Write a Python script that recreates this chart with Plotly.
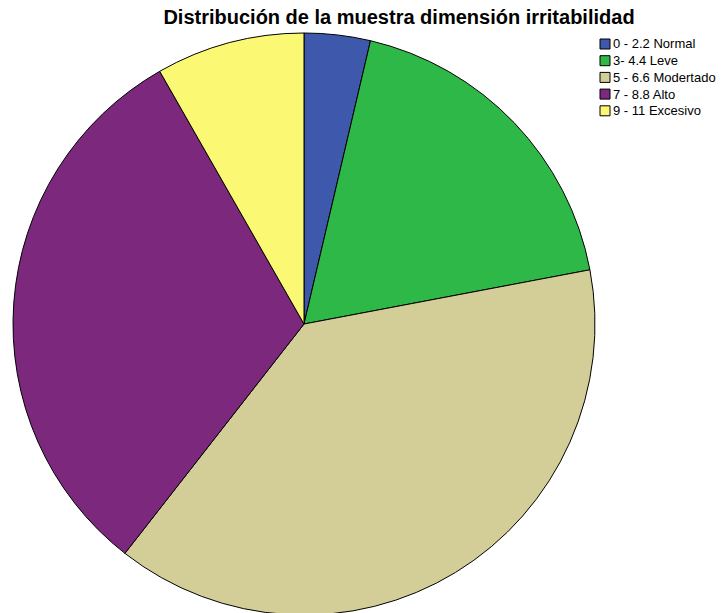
import plotly.graph_objects as go

categories = ["0 - 2.2 Normal", "3- 4.4 Leve", "5 - 6.6 Modertado", "7 - 8.8 Alto", "9 - 11 Excesivo"]
counts = [4, 20, 42, 34, 9]
colors = ["#3E58AC", "#2EB848", "#D3CE97", "#7C287D", "#FBF873"]

W, H = 725, 613
OFF = 8  # page body margin offset of the figure in the browser
cx, cy, r = 304 - OFF, 324 - OFF, 291

fig = go.Figure(go.Pie(
    labels=categories,
    values=counts,
    sort=False,
    direction="clockwise",
    rotation=0,
    textinfo="none",
    hoverinfo="label+value+percent",
    showlegend=False,
    marker=dict(colors=colors, line=dict(color="#000000", width=1)),
    domain=dict(x=[(cx - r) / W, (cx + r) / W], y=[max(0, (H - cy - r) / H), min(1, (H - cy + r) / H)]),
))

# Manual legend (SPSS style): small boxes with labels
lx0, ly0, box, step = 600 - OFF, 44 - OFF, 10, 16.7
shapes, annotations = [], []
for i, (lab, col) in enumerate(zip(categories, colors)):
    yc = ly0 + i * step
    shapes.append(dict(type="rect", xref="paper", yref="paper",
                       x0=lx0 / W, x1=(lx0 + box) / W,
                       y0=1 - (yc + box / 2) / H, y1=1 - (yc - box / 2) / H,
                       fillcolor=col, line=dict(color="#000000", width=1)))
    annotations.append(dict(text=lab, xref="paper", yref="paper",
                            x=(lx0 + box + 1) / W, y=1 - yc / H,
                            xanchor="left", yanchor="middle", showarrow=False,
                            font=dict(family="Arial, Liberation Sans", size=13, color="#000000")))

fig.update_layout(
    width=W, height=H,
    margin=dict(l=0, r=0, t=0, b=0),
    paper_bgcolor="white",
    showlegend=False,
    shapes=shapes,
    annotations=annotations,
    title=dict(text="<b>Distribución de la muestra dimensión irritabilidad</b>",
               x=(399 - OFF) / W, xanchor="center", y=1 - (17 - OFF) / H, yanchor="middle",
               font=dict(family="Arial, Liberation Sans", size=20, color="#000000")),
)

fig.write_html("out.html")
